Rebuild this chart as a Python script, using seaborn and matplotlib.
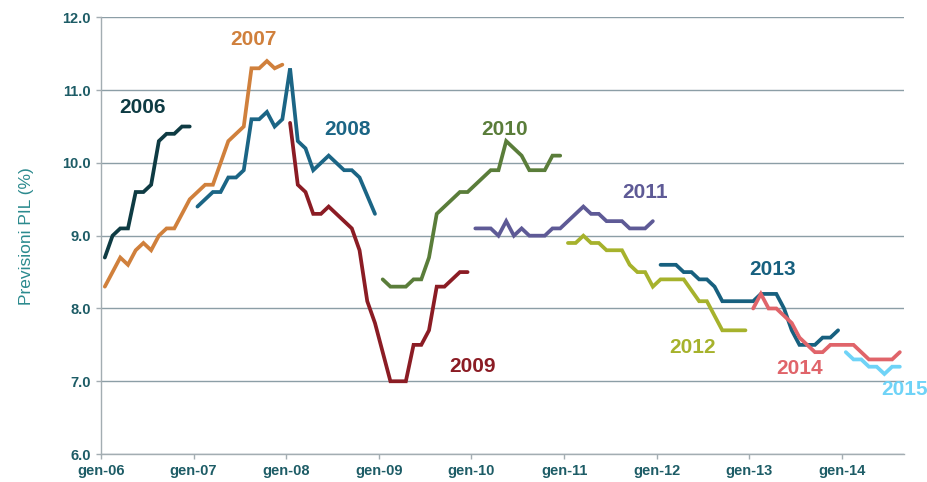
import numpy as np
import pandas as pd
import matplotlib
matplotlib.use("Agg")
import matplotlib.pyplot as plt
import seaborn as sns

# ---- data ----
series_names = ["2006", "2007", "2008", "2009", "2010", "2011", "2012", "2013", "2014", "2015"]
start_months = ["2006-01", "2006-01", "2007-01", "2008-01", "2009-01", "2010-01", "2011-01", "2012-01", "2013-01", "2014-01"]

v2006 = [8.7, 9.0, 9.1, 9.1, 9.6, 9.6, 9.7, 10.3, 10.4, 10.4, 10.5, 10.5]
v2007 = [8.3, 8.5, 8.7, 8.6, 8.8, 8.9, 8.8, 9.0, 9.1, 9.1, 9.3, 9.5,
         9.6, 9.7, 9.7, 10.0, 10.3, 10.4, 10.5, 11.3, 11.3, 11.4, 11.3, 11.35]
v2008 = [9.4, 9.5, 9.6, 9.6, 9.8, 9.8, 9.9, 10.6, 10.6, 10.7, 10.5, 10.6,
         11.3, 10.3, 10.2, 9.9, 10.0, 10.1, 10.0, 9.9, 9.9, 9.8, 9.55, 9.3]
v2009 = [10.55, 9.7, 9.6, 9.3, 9.3, 9.4, 9.3, 9.2, 9.1, 8.8, 8.1, 7.8,
         7.4, 7.0, 7.0, 7.0, 7.5, 7.5, 7.7, 8.3, 8.3, 8.4, 8.5, 8.5]
v2010 = [8.4, 8.3, 8.3, 8.3, 8.4, 8.4, 8.7, 9.3, 9.4, 9.5, 9.6, 9.6,
         9.7, 9.8, 9.9, 9.9, 10.3, 10.2, 10.1, 9.9, 9.9, 9.9, 10.1, 10.1]
v2011 = [9.1, 9.1, 9.1, 9.0, 9.2, 9.0, 9.1, 9.0, 9.0, 9.0, 9.1, 9.1,
         9.2, 9.3, 9.4, 9.3, 9.3, 9.2, 9.2, 9.2, 9.1, 9.1, 9.1, 9.2]
v2012 = [8.9, 8.9, 9.0, 8.9, 8.9, 8.8, 8.8, 8.8, 8.6, 8.5, 8.5, 8.3,
         8.4, 8.4, 8.4, 8.4, 8.25, 8.1, 8.1, 7.9, 7.7, 7.7, 7.7, 7.7]
v2013 = [8.6, 8.6, 8.6, 8.5, 8.5, 8.4, 8.4, 8.3, 8.1, 8.1, 8.1, 8.1,
         8.1, 8.2, 8.2, 8.2, 8.0, 7.7, 7.5, 7.5, 7.5, 7.6, 7.6, 7.7]
v2014 = [8.0, 8.2, 8.0, 8.0, 7.9, 7.8, 7.6, 7.5, 7.4, 7.4, 7.5, 7.5,
         7.5, 7.5, 7.4, 7.3, 7.3, 7.3, 7.3, 7.4]
v2015 = [7.4, 7.3, 7.3, 7.2, 7.2, 7.1, 7.2, 7.2]

series_values = [v2006, v2007, v2008, v2009, v2010, v2011, v2012, v2013, v2014, v2015]

colors = ["#0e3b43", "#d0803c", "#1b6585", "#8b1c24", "#5a7d3a",
          "#5e5a96", "#a6b22c", "#17607f", "#e0646a", "#6fd3f7"]

tick_labels = ["gen-06", "gen-07", "gen-08", "gen-09", "gen-10", "gen-11", "gen-12", "gen-13", "gen-14"]
y_ticks = [6.0, 7.0, 8.0, 9.0, 10.0, 11.0, 12.0]

# label anchor (month index, value)
label_x = [5.4, 19.7, 31.9, 48.1, 52.3, 70.5, 76.6, 87.0, 90.5, 104.1]
label_y = [10.76, 11.69, 10.46, 7.20, 10.46, 9.59, 7.46, 8.54, 7.18, 6.89]

# ---- build long table ----
base = pd.Period("2006-01", freq="M")
rows = []
for name, start, vals in zip(series_names, start_months, series_values):
    p0 = pd.Period(start, freq="M")
    off = (p0 - base).n
    for i, v in enumerate(vals):
        rows.append({"series": name, "month": off + i + 0.5, "value": v})
df = pd.DataFrame(rows)

sns.set_theme(style="white")
plt.rcParams["font.family"] = ["Liberation Sans", "DejaVu Sans"]

fig = plt.figure(figsize=(9.28, 4.82), dpi=100)
ax = fig.add_axes([0.1088, 0.058, 0.865, 0.906])

ax.grid(axis="y", color="#8c9ea6", linewidth=1.0)
ax.set_axisbelow(True)

sns.lineplot(data=df, x="month", y="value", hue="series", hue_order=series_names,
             palette=dict(zip(series_names, colors)), linewidth=2.7,
             estimator=None, legend=False, ax=ax, solid_joinstyle="miter")

for name, c, lx, ly in zip(series_names, colors, label_x, label_y):
    ax.text(lx, ly, name, color=c, fontsize=15, fontweight="bold",
            ha="center", va="center")

ax.set_xlim(0, 104)
ax.set_ylim(6.0, 12.0)
ax.set_xticks(np.arange(0, 97, 12))
ax.set_xticklabels(tick_labels)
ax.set_yticks(y_ticks)
ax.set_yticklabels([f"{t:.1f}" for t in y_ticks])

for s in ["top", "right"]:
    ax.spines[s].set_visible(False)
for s in ["left", "bottom"]:
    ax.spines[s].set_color("#a3adb2")
    ax.spines[s].set_linewidth(1.0)

ax.tick_params(axis="both", which="major", length=3.5, width=1, color="#a3adb2",
               labelcolor="#1d5c66", labelsize=10.5, pad=4, direction="out")
ax.tick_params(axis="x", bottom=True)
ax.tick_params(axis="y", left=True)
for lab in ax.get_xticklabels() + ax.get_yticklabels():
    lab.set_fontweight("bold")

ax.set_xlabel("")
ax.set_ylabel("Previsioni PIL (%)", color="#2b8a8e", fontsize=12.5, labelpad=20)

fig.savefig("out.png", dpi=100)
